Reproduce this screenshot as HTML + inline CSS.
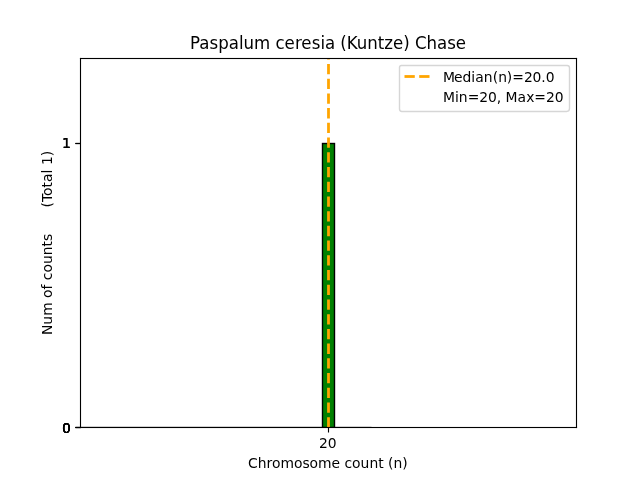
<!DOCTYPE html>
<html lang="en">
<head>
<meta charset="utf-8">
<title>Paspalum ceresia (Kuntze) Chase</title>
<style>
html,body{margin:0;padding:0;background:#fff;}
body{width:640px;height:480px;overflow:hidden;}
svg{display:block;}
text{font-family:"DejaVu Sans","Liberation Sans",sans-serif;fill:#000;}
.t10{font-size:13.889px;}
</style>
</head>
<body>
<svg width="640" height="480" viewBox="0 0 640 480">
  <rect x="0" y="0" width="640" height="480" fill="#ffffff"/>
  <!-- faint baseline curve -->
  <rect x="80" y="426" width="291.5" height="1" fill="#dcdcdc"/>
  <clipPath id="axclip"><rect x="80" y="57.6" width="496" height="369.6"/></clipPath>
  <!-- bar -->
  <rect x="322.5" y="143.5" width="12" height="284" fill="#008000" stroke="#000" stroke-width="1.39" clip-path="url(#axclip)"/>
  <!-- median line -->
  <line x1="328.5" y1="427.2" x2="328.5" y2="58.6" stroke="#ffa500" stroke-width="2.78" stroke-dasharray="10.28 4.44" stroke-dashoffset="0.3"/>
  <!-- spines -->
  <g fill="#000">
    <rect x="79.945" y="57.945" width="1.11" height="370.11"/>
    <rect x="575.945" y="57.945" width="1.11" height="370.11"/>
    <rect x="79.945" y="426.945" width="497.11" height="1.11"/>
    <rect x="79.945" y="57.945" width="497.11" height="1.11"/>
  </g>
  <!-- ticks -->
  <rect x="327.945" y="427.5" width="1.11" height="5" fill="#000"/>
  <rect x="75.5" y="142.945" width="5" height="1.11" fill="#000"/>
  <rect x="75.5" y="142.945" width="5" height="1.11" fill="#000"/>
  <rect x="75.5" y="142.945" width="5" height="1.11" fill="#000"/>
  <rect x="75.5" y="426.945" width="5" height="1.11" fill="#000"/>
  <rect x="75.5" y="426.945" width="5" height="1.11" fill="#000"/>
  <rect x="75.5" y="426.945" width="5" height="1.11" fill="#000"/>
  <rect x="75.5" y="426.945" width="5" height="1.11" fill="#000"/>
  <rect x="75.5" y="426.945" width="5" height="1.11" fill="#000"/>
  <!-- tick labels -->
  <text class="t10" x="318.97 327.78" y="447.6">20</text>
  <text class="t10" x="70.75" y="147.6" text-anchor="end">1</text>
  <text class="t10" x="70.75" y="147.6" text-anchor="end">1</text>
  <text class="t10" x="70.75" y="147.6" text-anchor="end">1</text>
  <text class="t10" x="70.75" y="432.6" text-anchor="end">0</text>
  <text class="t10" x="70.75" y="432.6" text-anchor="end">0</text>
  <text class="t10" x="70.75" y="432.6" text-anchor="end">0</text>
  <text class="t10" x="70.75" y="432.6" text-anchor="end">0</text>
  <text class="t10" x="70.75" y="432.6" text-anchor="end">0</text>
  <!-- labels -->
  <text font-size="17.4" transform="translate(328.2,49) scale(0.955,1)" x="-144.8 -135.1 -124.21 -115.15 -104.1 -93.45 -88.62 -77.61 -60.67 -55.14 -45.83 -34.88 -28.12 -17.18 -8.12 -3.27 7.12 12.65 19.44 29.97 40.98 52.01 58.58 67.96 78.65 85.44 90.95 102.85 113.87 124.77 133.58">Paspalum ceresia (Kuntze) Chase</text>
  <text class="t10" x="247.93 257.87 266.4 272.06 280.54 294.06 302.56 309.53 318.01 331.53 340.07 344.48 352.1 360.6 369.39 378.18 383.62 388.04 393.45 402.25" y="467.6">Chromosome count (n)</text>
  <text class="t10" transform="translate(52.2,243) rotate(-90)" x="-92.1 -81.73 -72.68 -59.41 -55.01 -46.52 -41.63 -37.23 -29.6 -21.1 -12.32 -3.52 1.91 9.15 13.55 17.98 22.38 26.79 31.2 35.62 41.02 46.9 55.63 61.07 69.57 73.43 78.09 86.66" xml:space="preserve">Num of counts      (Total 1)</text>
  <!-- legend -->
  <path d="M401.5,65.5 L567.2,65.5 Q569.5,65.5 569.5,67.8 L569.5,108.6 Q569.5,111.5 566.6,111.5 L401.9,111.5 Q399.5,111.5 399.5,109.1 L399.5,67.5 Q399.5,65.5 401.5,65.5 Z" fill="#ffffff" fill-opacity="0.8" stroke="#cccccc" stroke-opacity="0.8" stroke-width="1.39"/>
  <rect x="404.5" y="75.11" width="10.28" height="2.78" fill="#ffa500"/>
  <rect x="419.22" y="75.11" width="10.28" height="2.78" fill="#ffa500"/>
  <text class="t10" x="442.95 453.92 462.45 471.26 475.36 483.87 492.65 498.33 506.87 512.28 523.9 532.48 541.31 545.72" y="82.4">Median(n)=20.0</text>
  <text class="t10" x="442.9 455.12 458.71 467.76 479.13 487.96 496.79 501.2 505.62 517.59 526.34 534.31 545.93 554.76" y="101.8">Min=20, Max=20</text>
</svg>
</body>
</html>
